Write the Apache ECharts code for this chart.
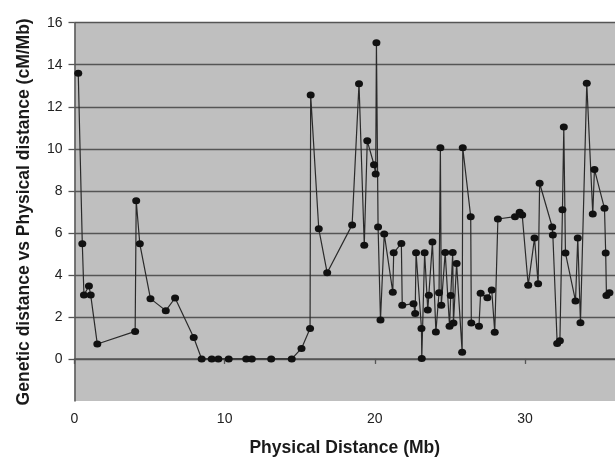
<!DOCTYPE html>
<html>
<head>
<meta charset="utf-8">
<script src="https://cdn.jsdelivr.net/npm/echarts@6/dist/echarts.min.js"></script>
<style>
html,body{margin:0;padding:0;background:#fff;}
#c{width:615px;height:462px;}
</style>
</head>
<body>
<div id="c"></div>
<script>
const positionsMb = [
  0.25, 0.52, 0.63, 0.96, 1.08, 1.52, 4.04, 4.11, 4.35, 5.06,
  6.08, 6.70, 7.94, 8.47, 9.14, 9.58, 10.27, 11.44, 11.81, 13.10,
  14.47, 15.12, 15.69, 15.73, 16.27, 16.83, 18.49, 18.95, 19.30, 19.50,
  19.95, 20.06, 20.11, 20.22, 20.38, 20.63, 21.20, 21.26, 21.77, 21.83,
  22.58, 22.69, 22.75, 23.11, 23.13, 23.32, 23.53, 23.60, 23.84, 24.07,
  24.28, 24.37, 24.43, 24.69, 24.98, 25.06, 25.19, 25.24, 25.45, 25.82,
  25.86, 26.39, 26.43, 26.94, 27.05, 27.50, 27.79, 27.99, 28.20, 29.34,
  29.65, 29.82, 30.22, 30.64, 30.88, 30.98, 31.82, 31.86, 32.15, 32.33,
  32.50, 32.59, 32.70, 33.37, 33.52, 33.70, 34.12, 34.52, 34.63, 35.30,
  35.38, 35.43, 35.63
];
const ratesCMperMb = [
  13.6, 5.48, 3.04, 3.47, 3.04, 0.71, 1.31, 7.53, 5.48, 2.87,
  2.30, 2.90, 1.02, 0, 0, 0, 0, 0, 0, 0,
  0, 0.50, 1.45, 12.56, 6.19, 4.10, 6.38, 13.1, 5.41, 10.38,
  9.24, 8.8, 15.05, 6.28, 1.86, 5.95, 3.18, 5.05, 5.5, 2.55,
  2.63, 2.16, 5.05, 1.45, 0.02, 5.05, 2.33, 3.03, 5.56, 1.28,
  3.15, 10.05, 2.55, 5.06, 1.56, 3.02, 5.06, 1.71, 4.54, 0.32,
  10.05, 6.77, 1.71, 1.56, 3.13, 2.91, 3.28, 1.27, 6.66, 6.77,
  6.98, 6.85, 3.51, 5.75, 3.58, 8.36, 6.28, 5.9, 0.74, 0.87,
  7.1, 11.04, 5.04, 2.76, 5.75, 1.72, 13.12, 6.9, 9.02, 7.17,
  5.04, 3.02, 3.15
];
const xTickValues = [0, 10, 20, 30];
const yTickValues = [0, 2, 4, 6, 8, 10, 12, 14, 16];

const points = positionsMb.map((x, i) => [x, ratesCMperMb[i]]);

const chart = echarts.init(document.getElementById('c'), null, {renderer: 'canvas'});
chart.setOption({
  animation: false,
  backgroundColor: '#ffffff',
  grid: {
    left: 74.5, top: 22.7, right: 0, bottom: 58.5,
    show: true, backgroundColor: '#bfbfbf', borderWidth: 0
  },
  xAxis: {
    type: 'value',
    min: 0, max: 36, interval: 10,
    name: 'Physical Distance (Mb)',
    nameLocation: 'middle',
    nameGap: 38,
    nameTextStyle: {fontFamily: 'Liberation Sans', fontWeight: 'bold', fontSize: 17.5, color: '#1a1a1a'},
    axisLine: {show: true, lineStyle: {color: '#555', width: 1.5}},
    axisTick: {show: true, length: 5, customValues: xTickValues, lineStyle: {color: '#555', width: 1.3}},
    axisLabel: {customValues: xTickValues, margin: 11, fontFamily: 'Liberation Sans', fontSize: 14, color: '#222'},
    splitLine: {show: false}
  },
  yAxis: {
    type: 'value',
    min: -2, max: 16, interval: 2,
    name: 'Genetic distance vs Physical distance (cM/Mb)',
    nameLocation: 'middle',
    nameGap: 41,
    nameTextStyle: {fontFamily: 'Liberation Sans', fontWeight: 'bold', fontSize: 17.5, color: '#1a1a1a'},
    axisLine: {show: true, lineStyle: {color: '#555', width: 1.5}},
    axisTick: {show: true, length: 6, customValues: yTickValues, lineStyle: {color: '#555', width: 1.3}},
    axisLabel: {customValues: yTickValues, margin: 12, fontFamily: 'Liberation Sans', fontSize: 14, color: '#222'},
    splitLine: {show: true, lineStyle: {color: '#555', width: 1.4}}
  },
  series: [{
    type: 'line',
    data: points,
    symbol: 'circle',
    symbolSize: [8, 7],
    itemStyle: {color: '#111'},
    lineStyle: {color: '#2a2a2a', width: 1.2},
    clip: true
  }]
});
</script>
</body>
</html>
